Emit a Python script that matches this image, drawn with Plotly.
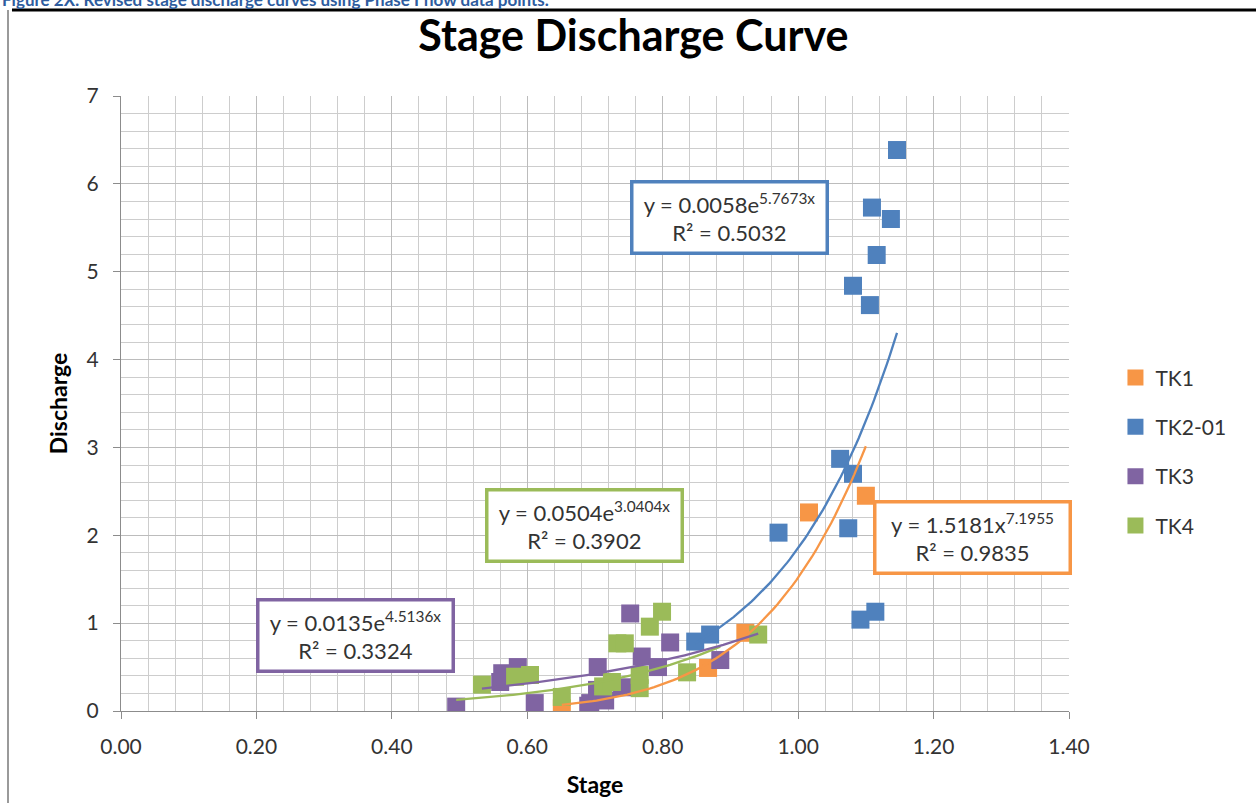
import numpy as np
import plotly.graph_objects as go

# ---- data ----
tk1_x = [0.651, 0.867, 0.922, 1.016, 1.100]
tk1_y = [0.03, 0.49, 0.89, 2.26, 2.45]

tk2_x = [0.848, 0.870, 0.971, 1.062, 1.074, 1.081, 1.092, 1.114, 1.081, 1.106, 1.116, 1.109, 1.137, 1.146]
tk2_y = [0.79, 0.87, 2.03, 2.87, 2.08, 2.70, 1.04, 1.13, 4.84, 4.62, 5.19, 5.73, 5.60, 6.385]

tk3_x = [0.495, 0.560, 0.563, 0.586, 0.611, 0.690, 0.693, 0.703, 0.704, 0.715, 0.740, 0.752, 0.769, 0.793, 0.811, 0.885]
tk3_y = [0.05, 0.33, 0.43, 0.50, 0.09, 0.06, 0.09, 0.24, 0.50, 0.12, 0.27, 1.11, 0.62, 0.50, 0.78, 0.58]

tk4_x = [0.533, 0.582, 0.604, 0.651, 0.712, 0.725, 0.733, 0.744, 0.766, 0.766, 0.781, 0.799, 0.836, 0.941]
tk4_y = [0.30, 0.39, 0.41, 0.16, 0.28, 0.33, 0.77, 0.77, 0.41, 0.26, 0.96, 1.13, 0.44, 0.87]

series_names = ["TK1", "TK2-01", "TK3", "TK4"]

# trendline equations (from labels)
tk1_eq = (1.5181, 7.1955)        # power: a * x^b
tk2_eq = (0.0058, 5.7673)        # exp: a * e^(b x)
tk3_eq = (0.0135, 4.5136)
tk4_eq = (0.0504, 3.0404)
eq_labels = {
    "TK1": ("y = 1.5181x<sup>7.1955</sup>", "R² = 0.9835"),
    "TK2-01": ("y = 0.0058e<sup>5.7673x</sup>", "R² = 0.5032"),
    "TK3": ("y = 0.0135e<sup>4.5136x</sup>", "R² = 0.3324"),
    "TK4": ("y = 0.0504e<sup>3.0404x</sup>", "R² = 0.3902"),
}

ORANGE = "#F79646"
BLUE = "#4F81BD"
PURPLE = "#8064A2"
GREEN = "#9BBB59"
FONT = "Lato"

fig = go.Figure()

for name, xs, ys, col in [("TK1", tk1_x, tk1_y, ORANGE), ("TK2-01", tk2_x, tk2_y, BLUE),
                          ("TK3", tk3_x, tk3_y, PURPLE), ("TK4", tk4_x, tk4_y, GREEN)]:
    fig.add_trace(go.Scatter(x=xs, y=ys, mode="markers", name=name, legendgroup=name,
                             marker=dict(symbol="square", size=18, color=col,
                                         line=dict(width=0))))

def exp_line(xs, eq):
    t = np.linspace(min(xs), max(xs), 80)
    return t, eq[0] * np.exp(eq[1] * t)

def pow_line(xs, eq):
    t = np.linspace(min(xs), max(xs), 80)
    return t, eq[0] * t ** eq[1]

# trendlines (colours as drawn in the reference)
for (t, v), col in [(pow_line(tk1_x, tk1_eq), ORANGE), (exp_line(tk2_x, tk2_eq), BLUE),
                    (exp_line(tk3_x, tk3_eq), GREEN), (exp_line(tk4_x, tk4_eq), PURPLE)]:
    fig.add_trace(go.Scatter(x=t, y=v, mode="lines", showlegend=False,
                             line=dict(color=col, width=2.3), hoverinfo="skip"))

# equation boxes
boxes = [("TK2-01", 0.898, 5.62, BLUE), ("TK4", 0.684, 2.117, GREEN),
         ("TK3", 0.347, 0.854, PURPLE), ("TK1", 1.257, 1.98, ORANGE)]
for key, bx, by, col in boxes:
    l1, l2 = eq_labels[key]
    fig.add_annotation(x=bx, y=by, xref="x", yref="y", text=l1 + "<br>" + l2,
                       showarrow=False, align="center", bgcolor="white",
                       bordercolor=col, borderwidth=3.5, borderpad=2,
                       width=188, height=64,
                       font=dict(family=FONT, size=22, color="#333333"))

# caption (cut off at top) and frame
fig.add_annotation(x=-0.1276, y=1.1575, xref="paper", yref="paper", xanchor="left", yanchor="middle",
                   text="<b>Figure 2X: Revised stage discharge curves using Phase I flow data points.</b>",
                   showarrow=False, font=dict(family=FONT, size=17, color="#2E5C9E"))
fig.add_shape(type="line", xref="paper", yref="paper", x0=-0.115, x1=1.2, y0=1.1398, y1=1.1398,
              line=dict(color="black", width=3))
fig.add_shape(type="line", xref="paper", yref="paper", x0=-0.1192, x1=-0.1192, y0=1.1398, y1=-0.16,
              line=dict(color="#9a9a9a", width=2))

grid_major = "#bcbcbc"
grid_minor = "#cdcdcd"

fig.update_layout(
    width=1256, height=803,
    margin=dict(l=121, r=187, t=96, b=92, autoexpand=False),
    paper_bgcolor="white", plot_bgcolor="white",
    title=dict(text="<b>Stage Discharge Curve</b>", x=0.5043, xanchor="center",
               y=0.955, yanchor="middle", font=dict(family=FONT, size=43, color="black")),
    showlegend=True,
    legend=dict(x=1.049, y=0.575, xanchor="left", yanchor="top",
                font=dict(family=FONT, size=21, color="#333333"),
                tracegroupgap=19, itemsizing="trace", bgcolor="rgba(0,0,0,0)"),
    xaxis=dict(range=[0, 1.4], dtick=0.2, tick0=0, tickformat=".2f", automargin=False,
               showgrid=True, gridcolor=grid_major, gridwidth=1,
               minor=dict(dtick=0.04, showgrid=True, gridcolor=grid_minor, gridwidth=1),
               showline=True, linecolor="#8c8c8c", linewidth=1,
               ticks="outside", ticklen=7, tickcolor="#8c8c8c", ticklabelstandoff=10,
               zeroline=False, tickfont=dict(family=FONT, size=21, color="#333333"),
               title=dict(text="<b>Stage</b>", font=dict(family=FONT, size=23, color="black"), standoff=19)),
    yaxis=dict(range=[0, 7], dtick=1, tick0=0, automargin=False,
               showgrid=True, gridcolor=grid_major, gridwidth=1,
               minor=dict(dtick=0.2, showgrid=True, gridcolor=grid_minor, gridwidth=1),
               showline=True, linecolor="#8c8c8c", linewidth=1,
               ticks="outside", ticklen=7, tickcolor="#8c8c8c", ticklabelstandoff=10,
               zeroline=False, tickfont=dict(family=FONT, size=21, color="#333333"),
               title=dict(text="<b>Discharge</b>", font=dict(family=FONT, size=23, color="black"), standoff=12)),
)

fig.write_html("out.html", config={"displayModeBar": False},
               post_script="document.body.style.margin='0';")
